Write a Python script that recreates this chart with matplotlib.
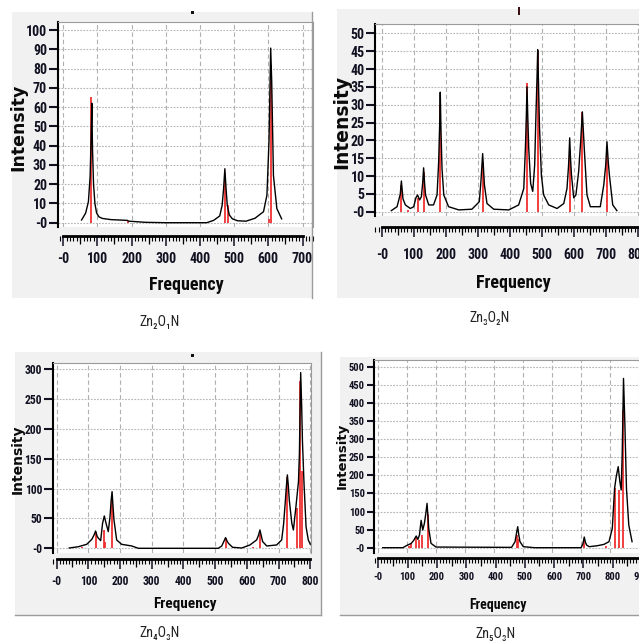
import matplotlib
matplotlib.use("Agg")
import matplotlib.pyplot as plt
from matplotlib.patches import Rectangle
from matplotlib.ticker import MultipleLocator, FuncFormatter
import numpy as np

W, H = 639, 642

# ---- data ----
zn2_freq = [54, 66, 74, 79, 82, 84, 86, 89, 93, 98, 105, 115, 140, 188, 192, 240, 300, 420,
            440, 458, 465, 469, 473, 476, 480, 486, 495, 510, 535, 561, 586, 596, 602, 607,
            610, 615, 625, 639]
zn2_int = [1.4, 5, 10.9, 24, 45, 62, 38, 20, 10, 5, 3, 2.2, 1.6, 1.2, 0.8, 0.2, 0, 0,
           1.2, 3.5, 9, 17, 28, 19, 9, 4, 2, 1, 0.8, 2.3, 5.7, 14.3, 42, 90.6,
           73, 24.6, 7.3, 2]
zn2_stick_freq = [83, 189, 472, 481, 602, 607]
zn2_stick_int = [65, 1, 26, 9, 2, 82]

zn3_freq = [30, 48, 58, 61.5, 66.5, 74, 89.5, 100, 107, 112, 118.5, 124, 128, 131, 134, 137,
            147, 162, 173, 178, 181, 183, 185.5, 188.5, 194, 209, 241, 282, 305, 310, 315.5,
            321, 329, 350, 397, 428, 444, 449, 452, 454, 457, 459.5, 465.5, 472, 478, 482,
            485.5, 487.5, 490, 493, 499, 506, 522, 548, 569, 579, 584, 587.5, 590, 593, 600,
            607, 615.5, 622, 627, 630, 633, 641.5, 652, 683, 694, 700, 704, 708, 711.5, 722, 735]
zn3_int = [0.3, 1.4, 4.9, 8.6, 3.6, 1.9, 0.9, 1.4, 3.9, 4.7, 3.3, 4.2, 8, 12.3, 8, 4.7,
           1.9, 1.9, 4.7, 14, 24, 33.5, 22, 12, 4.7, 1.4, 0.5, 0.7, 2.8, 8.4, 16.3,
           7.5, 2.3, 0.7, 0.5, 1.9, 6.5, 17.7, 27, 35, 25, 17.7, 7.9, 5.7, 13, 27,
           38, 45.4, 36, 24, 10.3, 4.7, 1.9, 0.9, 2.3, 6.5, 13, 20.7, 15, 10.3, 3.9,
           4.7, 11.3, 20, 28, 23, 17.7, 4.7, 1.4, 1.4, 7.5, 13, 19.6, 14, 10.3, 1.9, 0.3]
zn3_stick_freq = [61, 82, 112, 131, 183, 315, 454, 487, 587, 627, 704]
zn3_stick_int = [7.5, 0.5, 3.9, 11, 30, 14, 36.2, 45, 17.4, 28, 17]

zn4_freq = [40, 69, 95, 111, 118, 123, 128, 132, 139, 145, 150.5, 156, 163, 168.5, 172, 175,
            178, 181, 189.5, 205, 237, 258, 510, 521, 528, 533, 538, 542, 555, 584, 610, 631,
            637, 641.5, 646, 650, 663, 694, 710, 716, 721, 725, 728, 731, 734, 742, 747, 755,
            763, 766, 768, 770, 773, 775.5, 780.5, 787, 794, 800]
zn4_int = [0.5, 2.7, 6.7, 15, 22, 29, 20, 16.8, 12.9, 41.9, 54.2, 41.9, 28, 53, 80, 95,
           70, 47.5, 14, 6.7, 3.9, 0, 0, 3.9, 12, 17.9, 12, 8.4, 1.7, 0.5, 5.6, 14,
           22, 30.7, 20, 11.2, 3.9, 5.6, 14, 40, 75, 105, 123, 105, 81, 42, 30.7, 69.8,
           111.7, 160, 230, 294.5, 240, 180, 108.5, 35.8, 14, 7]
zn4_stick_freq = [79, 123, 148, 154, 175, 533, 618, 641.5, 728, 757, 769, 775]
zn4_stick_int = [2, 28, 31, 10, 87, 17, 3, 23.5, 120, 67, 280, 130]

zn5_freq = [15, 85, 96.5, 113.6, 122, 130.7, 136.4, 142, 147.7, 153.4, 159, 164, 168.2, 173.9,
            181.9, 199, 460, 472, 477, 481.2, 485, 489, 500.5, 540, 700, 706, 711, 715, 719,
            728, 756.5, 779, 796.4, 807.8, 815.7, 821.4, 828.2, 833.9, 838.5, 841.9, 846.5,
            851, 856.7, 864.7, 876]
zn5_int = [0, 0, 5.5, 12, 20, 32.3, 23, 35, 75.5, 48.8, 67.3, 95, 122.5, 53.4,
           12, 1.8, 0.9, 16.6, 40, 58, 35, 16.6, 2.8, 0, 0, 10, 29.5, 15, 7.4,
           2.8, 5.5, 9.2, 16.6, 53.4, 163.9, 196.2, 223.8, 182.4, 159.4, 256, 467.6,
           348, 164, 62.6, 16.6]
zn5_stick_freq = [106, 114, 131, 142, 150, 170.5, 478, 483, 557, 711, 785, 817, 830.5, 845]
zn5_stick_int = [5, 10, 27.6, 21, 35, 92, 35, 25, 3, 21, 5, 164, 159, 380]

captions = ["Zn₂O₁N", "Zn₃O₂N", "Zn₄O₃N", "Zn₅O₃N"]

# ---- layout of each screenshot (pixels) ----
panels = [
    dict(freq=zn2_freq, inten=zn2_int, sf=zn2_stick_freq, si=zn2_stick_int, cap=captions[0],
         bg=(12, 12, 312, 298), plot=(57.7, 22, 313, 226.5), x0=63.1, sx=0.342, y0=222.7, sy=1.927,
         ystep=10, ymax=100, ytick_len=9, xend=700, ruler_y=236, ruler_right=313, lab_pad=6,
         tick_fs=10, freq_fs=13, freq_xy=(186, 285), int_fs=12.5, int_xy=(18.5, 127),
         cap_xy=(160, 322), right_border=True),
    dict(freq=zn3_freq, inten=zn3_int, sf=zn3_stick_freq, si=zn3_stick_int, cap=captions[1],
         bg=(337, 9, 639, 298), plot=(375.3, 24, 639, 216), x0=381.7, sx=0.32, y0=211.7, sy=3.567,
         ystep=5, ymax=50, ytick_len=9, xend=800, ruler_y=227, ruler_right=660, lab_pad=11,
         tick_fs=10, freq_fs=13, freq_xy=(513, 283), int_fs=13.5, int_xy=(342, 122),
         cap_xy=(490, 318), right_border=False),
    dict(freq=zn4_freq, inten=zn4_int, sf=zn4_stick_freq, si=zn4_stick_int, cap=captions[2],
         bg=(15, 352, 321, 615), plot=(52.7, 362.7, 311, 553.3), x0=56.6, sx=0.317, y0=548.3, sy=0.5967,
         ystep=50, ymax=300, ytick_len=9, xend=800, ruler_y=559, ruler_right=311, lab_pad=6,
         tick_fs=8.4, freq_fs=11, freq_xy=(185, 604), int_fs=10, int_xy=(17.5, 459),
         cap_xy=(160, 633), right_border=True),
    dict(freq=zn5_freq, inten=zn5_int, sf=zn5_stick_freq, si=zn5_stick_int, cap=captions[3],
         bg=(340, 357, 639, 615), plot=(373.5, 359.5, 639, 553.3), x0=378.4, sx=0.2929, y0=547.7, sy=0.362,
         ystep=50, ymax=500, ytick_len=7, xend=900, ruler_y=558.3, ruler_right=660, lab_pad=4,
         tick_fs=7.6, freq_fs=10, freq_xy=(498, 605), int_fs=9.5, int_xy=(342.5, 456),
         cap_xy=(496, 634), right_border=False),
]

NARROW = ["Roboto Condensed", "DejaVu Sans"]
PT = 0.72  # points per pixel at 100 dpi


def frac_rect(l, t, r, b):
    return [l / W, 1 - b / H, (r - l) / W, (b - t) / H]


def zero_label(v, pos):
    v = int(round(v))
    return "-0" if v == 0 else str(v)


fig = plt.figure(figsize=(W / 100, H / 100), dpi=100)
fig.patch.set_facecolor("white")

for p in panels:
    l, t, r, b = p["bg"]
    fig.add_artist(Rectangle((l / W, 1 - b / H), (r - l) / W, (b - t) / H,
                             transform=fig.transFigure, facecolor="#f1f1f1",
                             edgecolor="none", zorder=0))

    pl, pt_, pr, pb = p["plot"]
    ax = fig.add_axes(frac_rect(pl, pt_, pr, pb))
    ax.set_facecolor("white")
    ax.set_xlim((pl - p["x0"]) / p["sx"], (pr - p["x0"]) / p["sx"])
    ax.set_ylim((p["y0"] - pb) / p["sy"], (p["y0"] - pt_) / p["sy"])

    ax.vlines(p["sf"], 0, p["si"], color="#f03030", lw=1.3, zorder=2)
    ax.plot(p["freq"], p["inten"], color="black", lw=1.0, zorder=3)

    ax.set_xticks(np.arange(0, p["xend"] + 1, 100))
    ax.set_yticks(np.arange(0, p["ymax"] + 1, p["ystep"]))
    ax.yaxis.set_major_formatter(FuncFormatter(zero_label))
    ax.tick_params(axis="x", length=0, labelbottom=False)
    ax.tick_params(axis="y", direction="out", length=p["ytick_len"] * PT, width=1.5, pad=1.2,
                   labelsize=p["tick_fs"], colors="#111122")
    for lab in ax.get_yticklabels():
        lab.set_family(NARROW)
        lab.set_fontweight("bold")
    ax.grid(axis="y", color="#b8b8b8", lw=0.8, linestyle=(0, (1.6, 1.2)))
    ax.grid(axis="x", color="#b0b0b0", lw=0.8, linestyle=(0, (4, 2.6)))
    ax.set_axisbelow(True)
    ax.spines["left"].set_color("black")
    ax.spines["left"].set_linewidth(1.5)
    ax.spines["bottom"].set_visible(False)
    ax.spines["top"].set_color("#9a9a9a")
    ax.spines["right"].set_color("#9a9a9a")
    ax.spines["right"].set_visible(p["right_border"])

    # separate frequency ruler under the plot
    ry = p["ruler_y"]
    rr = p["ruler_right"]
    axr = fig.add_axes(frac_rect(pl, ry - 1, rr, ry))
    axr.set_xlim((pl - p["x0"]) / p["sx"], (rr - p["x0"]) / p["sx"])
    axr.patch.set_visible(False)
    for s in ["top", "left", "right"]:
        axr.spines[s].set_visible(False)
    axr.spines["bottom"].set_linewidth(2)
    axr.spines["bottom"].set_bounds(0, p["xend"])
    axr.set_yticks([])
    axr.xaxis.set_major_locator(MultipleLocator(100))
    axr.xaxis.set_minor_locator(MultipleLocator(10))
    axr.xaxis.set_major_formatter(FuncFormatter(zero_label))
    axr.tick_params(axis="x", which="major", length=10 * PT, width=1.1, pad=p["lab_pad"] * PT,
                    labelsize=p["tick_fs"], colors="#111122")
    axr.tick_params(axis="x", which="minor", length=5 * PT, width=0.8)
    for lab in axr.get_xticklabels():
        lab.set_family(NARROW)
        lab.set_fontweight("bold")
    sec = axr.secondary_xaxis("bottom")
    sec.set_xticks(np.arange(50, p["xend"], 100))
    sec.tick_params(length=7.5 * PT, width=0.9, labelbottom=False)
    sec.spines["bottom"].set_visible(False)

    fx, fy = p["freq_xy"]
    fig.text(fx / W, 1 - fy / H, "Frequency", ha="center", va="center",
             fontsize=p["freq_fs"], fontweight="bold", family=NARROW, color="#0a0a0a")
    ix, iy = p["int_xy"]
    fig.text(ix / W, 1 - iy / H, "Intensity", ha="center", va="center", rotation=90,
             fontsize=p["int_fs"], fontweight="bold", family="DejaVu Sans", color="#0a0a0a")
    cx, cy = p["cap_xy"]
    fig.text(cx / W, 1 - cy / H, p["cap"], ha="center", va="center",
             fontsize=10, family=NARROW, color="#222222")

# panel frame edges
for (x1, y1, x2, y2) in [(312, 12, 312, 298), (321, 352, 321, 615), (15, 615, 321, 615), (340, 615, 639, 615)]:
    fig.add_artist(plt.Line2D([x1 / W, x2 / W], [1 - y1 / H, 1 - y2 / H], transform=fig.transFigure,
                              color="#9c9c9c", lw=1.0))

# little title marks left over from the program windows
for (x, y, w, h, c) in [(191, 11, 3, 3, "#111111"), (518, 7, 2, 8, "#3a1010"), (191, 354, 2.5, 2.5, "#111111")]:
    fig.add_artist(Rectangle((x / W, 1 - (y + h) / H), w / W, h / H, transform=fig.transFigure,
                             facecolor=c, edgecolor="none"))

fig.savefig("out.png", dpi=100)
